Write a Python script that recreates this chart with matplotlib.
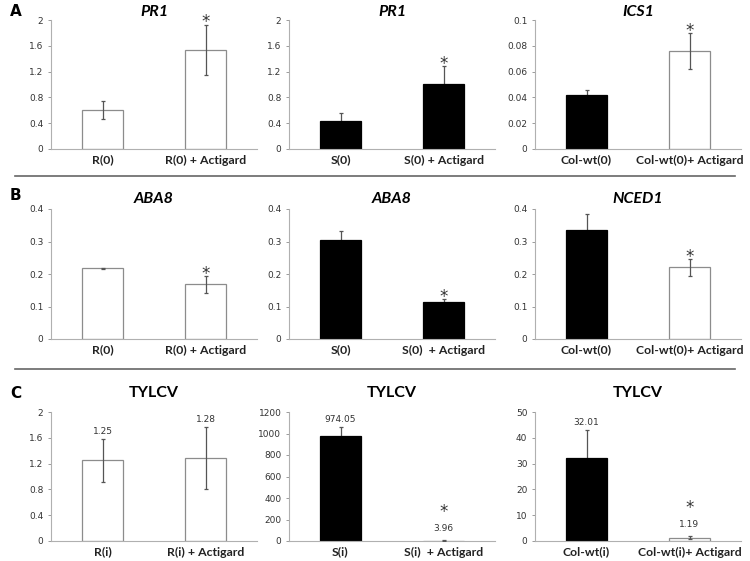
"""Three rows of paired bar charts: gene expression and TYLCV titres."""

import matplotlib

matplotlib.use("Agg")
import matplotlib.pyplot as plt  # noqa: E402
from matplotlib.lines import Line2D  # noqa: E402

# ---- data -------------------------------------------------------------
titles = [
    ["PR1", "PR1", "ICS1"],
    ["ABA8", "ABA8", "NCED1"],
    ["TYLCV", "TYLCV", "TYLCV"],
]
categories = [
    [["R(0)", "R(0) + Actigard"], ["S(0)", "S(0) + Actigard"],
     ["Col-wt(0)", "Col-wt(0)+ Actigard"]],
    [["R(0)", "R(0) + Actigard"], ["S(0)", "S(0)  + Actigard"],
     ["Col-wt(0)", "Col-wt(0)+ Actigard"]],
    [["R(i)", "R(i) + Actigard"], ["S(i)", "S(i)  + Actigard"],
     ["Col-wt(i)", "Col-wt(i)+ Actigard"]],
]
means = [
    [[0.60, 1.54], [0.435, 1.015], [0.042, 0.076]],
    [[0.218, 0.169], [0.305, 0.114], [0.335, 0.221]],
    [[1.25, 1.28], [974.05, 3.96], [32.01, 1.19]],
]
errors = [
    [[0.14, 0.39], [0.13, 0.27], [0.004, 0.014]],
    [[0.002, 0.026], [0.026, 0.009], [0.05, 0.026]],
    [[0.33, 0.48], [85, 4], [11, 0.6]],
]
# which bar is filled black
filled = [
    [[False, False], [True, True], [True, False]],
    [[False, False], [True, True], [True, False]],
    [[False, False], [True, False], [True, False]],
]
significant = [
    [[False, True], [False, True], [False, True]],
    [[False, True], [False, True], [False, True]],
    [[False, False], [False, True], [False, True]],
]
value_labels = [
    None,
    None,
    [["1.25", "1.28"], ["974.05", "3.96"], ["32.01", "1.19"]],
]
y_max = [[2, 2, 0.1], [0.4, 0.4, 0.4], [2, 1200, 50]]
y_step = [[0.4, 0.4, 0.02], [0.1, 0.1, 0.1], [0.4, 200, 10]]
row_letters = ["A", "B", "C"]
italic_titles = [True, True, False]

# ---- layout -----------------------------------------------------------
W, H = 750, 561
fig = plt.figure(figsize=(W / 100, H / 100), dpi=100)

row_top_bottom = [(20, 149), (209, 339), (412, 541)]
letter_y = [12, 196, 394]
col_left = [51, 289, 535]
ax_width = 206
title_pad = [3, 4, 11]
grey = "#8c8c8c"
label_font = "Lato"

for r in range(3):
    top, bot = row_top_bottom[r]
    for c in range(3):
        ax = fig.add_axes([col_left[c] / W, 1 - bot / H, ax_width / W, (bot - top) / H])
        vals = means[r][c]
        errs = errors[r][c]
        xs = [0, 1]
        for i in xs:
            black = filled[r][c][i]
            ax.bar(i, vals[i], width=0.4, color="black" if black else "white",
                   edgecolor="black" if black else grey, linewidth=0.9, zorder=2)
            # on black bars the lower half of the error bar is hidden behind the bar
            ax.errorbar(i, vals[i], yerr=errs[i], fmt="none", ecolor="#555555",
                        elinewidth=0.9, capsize=1.5, capthick=0.9,
                        zorder=1 if black else 3)
        ax.set_xlim(-0.5, 1.5)
        ax.set_ylim(0, y_max[r][c])
        n = int(round(y_max[r][c] / y_step[r][c]))
        ticks = [i * y_step[r][c] for i in range(n + 1)]
        ax.set_yticks(ticks)
        ax.set_yticklabels(["{:g}".format(round(t, 4)) for t in ticks],
                           fontsize=6.5, color="#333333")
        ax.set_xticks(xs)
        ax.set_xticklabels(categories[r][c], fontsize=8.8, fontweight="bold",
                           color="#222222", family=label_font)
        ax.tick_params(axis="y", length=2.5, width=0.6, color=grey, pad=3)
        ax.tick_params(axis="x", length=0, pad=4)
        for side in ["top", "right"]:
            ax.spines[side].set_visible(False)
        for side in ["left", "bottom"]:
            ax.spines[side].set_color("#b0b0b0")
            ax.spines[side].set_linewidth(0.8)
        ax.set_title(titles[r][c], fontsize=11.5, fontweight="bold", family=label_font,
                     fontstyle="italic" if italic_titles[r] else "normal", pad=title_pad[r])

        labels = value_labels[r][c] if value_labels[r] else None
        for i in xs:
            top_val = vals[i] + errs[i]
            if labels:
                small = vals[i] < 0.1 * y_max[r][c]
                off = 5 if small else 2.5
                ax.annotate(labels[i], (i, top_val), xytext=(0, off), textcoords="offset points",
                            ha="center", va="bottom", fontsize=6.5, color="#333333")
                if significant[r][c][i]:
                    ax.annotate("*", (i, top_val), xytext=(0, off + 9), textcoords="offset points",
                                ha="center", va="bottom", fontsize=12, color="#333333")
            elif significant[r][c][i]:
                ax.annotate("*", (i, top_val), xytext=(0, -5), textcoords="offset points",
                            ha="center", va="bottom", fontsize=12, color="#333333")

    fig.text(10 / W, 1 - letter_y[r] / H, row_letters[r], fontsize=11, fontweight="bold",
             ha="left", va="center")

# separator lines between rows
for y in [176, 369]:
    fig.add_artist(Line2D([15 / W, 735 / W], [1 - y / H, 1 - y / H],
                          color="#666666", linewidth=1.2))

fig.savefig("out.png", dpi=100)
